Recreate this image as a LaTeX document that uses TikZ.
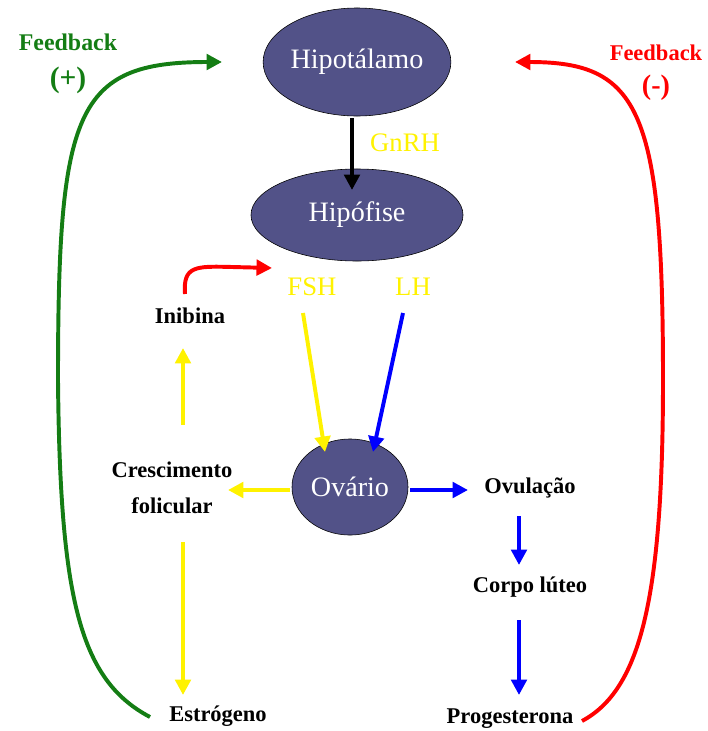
\documentclass[tikz,border=0pt]{standalone}
\usepackage{fontspec}
\setmainfont{Liberation Serif}
\usetikzlibrary{arrows.meta,calc,shapes.geometric}

\definecolor{glandfill}{RGB}{82,82,136}
\definecolor{fbgreen}{RGB}{20,125,20}

\begin{document}
\begin{tikzpicture}[x=0.025cm, y=-0.025cm,
  gland/.style={ellipse, draw=black, thin, fill=glandfill, text=white, inner sep=0pt,
    font=\fontsize{20}{24}\selectfont},
  lbl/.style={font=\bfseries\fontsize{16}{26}\selectfont, align=center, inner sep=0pt},
  hormone/.style={text=yellow, font=\fontsize{19}{22}\selectfont, inner sep=0pt},
  arr/.style={line width=2.8pt, -{Triangle[length=11pt,width=11pt]}}]
\useasboundingbox (0,0) rectangle (708,731);

% glands
\node[gland, minimum width=4.25cm, minimum height=2.7cm] (hipot) at (357,62) {Hipotálamo};
\node[gland, minimum width=5.3cm, minimum height=2.3cm] (hipof) at (357,215) {Hipófise};
\node[gland, minimum width=2.9cm, minimum height=2.4cm] (ovario) at (350,487) {Ovário};

% hormones
\node[hormone] (gnrh) at (405,143) {GnRH};
\node[hormone] (fsh) at (312,287) {FSH};
\node[hormone] (lh) at (413,287) {LH};

% labels
\node[lbl] (inib) at (190,316) {Inibina};
\node[lbl] (cresc) at (172,488) {Crescimento\\folicular};
\node[lbl] (estr) at (218,716) {Estrógeno};
\node[lbl] (ovul) at (530,488) {Ovulação};
\node[lbl] (corpo) at (530,587) {Corpo lúteo};
\node[lbl] (prog) at (510,719) {Progesterona};
\node[lbl, text=fbgreen, font=\bfseries\fontsize{17}{26}\selectfont] (fbpos) at (68,64)
  {Feedback\\{\fontsize{21}{26}\selectfont(+)}};
\node[lbl, text=red, font=\bfseries\fontsize{16}{24}\selectfont] (fbneg) at (656,73)
  {Feedback\\{\fontsize{20}{24}\selectfont(-)}};

% arrow ends
\coordinate (gnrhA) at (352,118);
\coordinate (gnrhB) at (352,190);
\coordinate (fshA) at (303,313);
\coordinate (fshB) at (325,452);
\coordinate (lhA) at (403,313);
\coordinate (lhB) at (373,452);
\coordinate (ovL) at (228,490);
\coordinate (ovR) at (468,490);
\coordinate (inibA) at (183,425);
\coordinate (inibB) at (183,348);
\coordinate (estrA) at (183,542);
\coordinate (estrB) at (183,695);
\coordinate (corpoA) at (519,516);
\coordinate (corpoB) at (519,565);
\coordinate (progA) at (519,620);
\coordinate (progB) at (519,695);
\coordinate (inhA) at (185,294);
\coordinate (inhB) at (272,268);
\coordinate (fbposA) at (150,717);
\coordinate (fbposB) at (222,62);
\coordinate (fbnegA) at (582,721);
\coordinate (fbnegB) at (515,62);

\draw[arr, black] (gnrhA) -- (gnrhB);
\draw[arr, yellow] (fshA) -- (fshB);
\draw[arr, blue] (lhA) -- (lhB);
\draw[arr, yellow] (ovario.west |- ovL) ++(-2,0) -- (ovL);
\draw[arr, blue] (ovario.east |- ovR) ++(2,0) -- (ovR);
\draw[arr, yellow] (inibA) -- (inibB);
\draw[arr, yellow] (estrA) -- (estrB);
\draw[arr, blue] (corpoA) -- (corpoB);
\draw[arr, blue] (progA) -- (progB);
\draw[arr, red] (inhA) .. controls (183,266) and (195,266) .. (232,267) -- (inhB);

% feedback loops
\draw[arr, fbgreen] (fbposA) .. controls (80,680) and (60,600) .. (58,380)
  .. controls (58,110) and (75,62) .. (fbposB);
\draw[arr, red] (fbnegA) .. controls (640,690) and (663,600) .. (663,380)
  .. controls (663,110) and (640,62) .. (fbnegB);
\end{tikzpicture}
\end{document}
